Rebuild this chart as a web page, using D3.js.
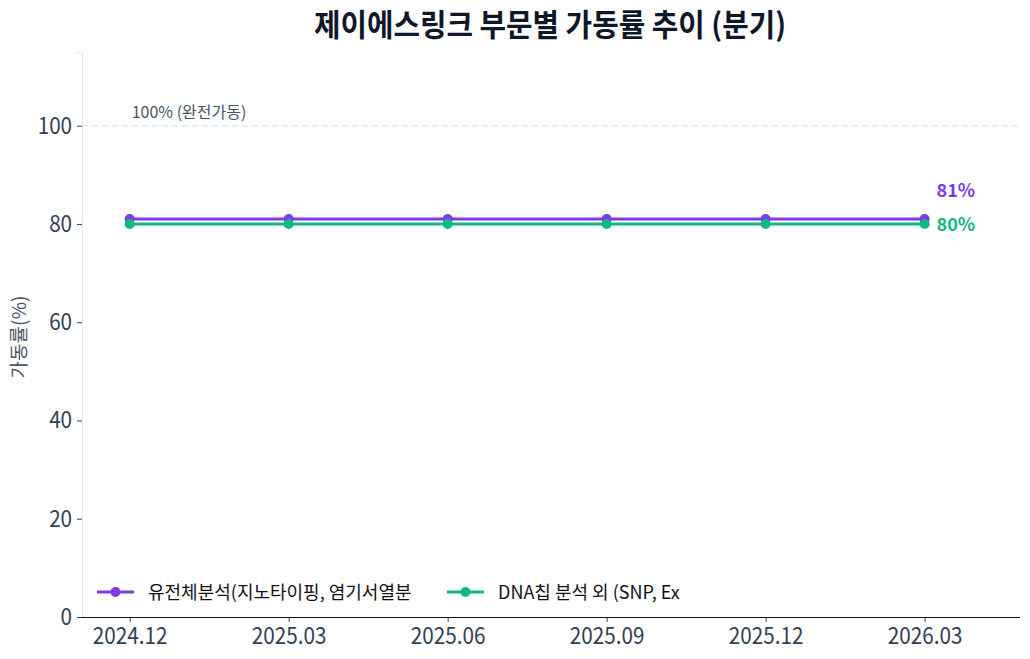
<!DOCTYPE html>
<html>
<head>
<meta charset="utf-8">
<script src="https://cdn.jsdelivr.net/npm/d3@7"></script>
<style>
  body { margin: 0; background: #fff; }
  svg { font-family: "Noto Sans CJK KR", "Noto Sans", sans-serif; }
</style>
</head>
<body>
<div id="chart"></div>
<script>
// Quarters and utilisation rates (%)
const quarters = ["2024.12", "2025.03", "2025.06", "2025.09", "2025.12", "2026.03"];
const genomeRates = [81, 81, 81, 81, 81, 81];
const dnaChipRates = [80, 80, 80, 80, 80, 80];
const seriesNames = ["유전체분석(지노타이핑, 염기서열분", "DNA칩 분석 외 (SNP, Ex"];
const yTicks = [0, 20, 40, 60, 80, 100];

const W = 1030, H = 659;
const margin = {top: 52, right: 10, bottom: 42, left: 82};
const width = W - margin.left - margin.right;
const height = H - margin.top - margin.bottom;

const svg = d3.select("#chart").append("svg")
    .attr("width", W)
    .attr("height", H);

const g = svg.append("g")
    .attr("transform", `translate(${margin.left},${margin.top})`);

const x = d3.scaleLinear()
    .domain([-0.3, quarters.length - 1 + 0.6])
    .range([0, width]);

const y = d3.scaleLinear()
    .domain([0, 115])
    .range([height, 0]);

const colors = ["#7c3aed", "#10b981"];
const series = [genomeRates, dnaChipRates];

// Title
svg.append("text")
    .attr("transform", "translate(550,36) scale(0.93,1)")
    .attr("text-anchor", "middle")
    .attr("font-size", 31)
    .attr("font-weight", "bold")
    .attr("fill", "#0f172a")
    .text("제이에스링크 부문별 가동률 추이 (분기)");

// 100% reference line
g.append("line")
    .attr("x1", 0).attr("x2", width)
    .attr("y1", y(100)).attr("y2", y(100))
    .attr("stroke", "#e2e8f0")
    .attr("stroke-width", 1.5)
    .attr("stroke-dasharray", "6,4");

g.append("text")
    .attr("x", x(0) + 2)
    .attr("y", y(100) - 8)
    .attr("font-size", 16)
    .attr("fill", "#475569")
    .text("100% (완전가동)");

// Axes
const yAxis = g.append("g")
    .call(d3.axisLeft(y).tickValues(yTicks).tickSize(5).tickPadding(6));
yAxis.select(".domain").attr("stroke", "#e5e7eb");
yAxis.selectAll(".tick line").attr("stroke", "#334155");
yAxis.selectAll(".tick text")
    .attr("font-size", 23)
    .attr("fill", "#334155")
    .attr("transform", "scale(0.9,1)")
    .attr("font-family", "'Noto Sans CJK KR', sans-serif");

const xAxis = g.append("g")
    .attr("transform", `translate(0,${height})`)
    .call(d3.axisBottom(x)
        .tickValues(d3.range(quarters.length))
        .tickFormat(i => quarters[i])
        .tickSize(5)
        .tickPadding(6));
xAxis.select(".domain").attr("stroke", "#111").attr("d", `M0,0.5H${width}`);
xAxis.selectAll(".tick line").attr("stroke", "#334155");
xAxis.selectAll(".tick text")
    .attr("font-size", 23)
    .attr("fill", "#334155")
    .attr("transform", "scale(0.9,1)")
    .attr("font-family", "'Noto Sans CJK KR', sans-serif");

// Y axis label
g.append("text")
    .attr("transform", "rotate(-90)")
    .attr("x", -285)
    .attr("y", -56)
    .attr("text-anchor", "middle")
    .attr("font-size", 19)
    .attr("fill", "#475569")
    .text("가동률(%)");

// Lines and points
const line = d3.line()
    .x((d, i) => x(i))
    .y(d => y(d));

series.forEach((values, s) => {
    g.append("path")
        .datum(values)
        .attr("d", line)
        .attr("fill", "none")
        .attr("stroke", colors[s])
        .attr("stroke-width", 3);

    g.selectAll(`.pt${s}`)
        .data(values)
        .enter()
        .append("circle")
        .attr("class", `pt${s}`)
        .attr("cx", (d, i) => x(i))
        .attr("cy", d => y(d))
        .attr("r", 5)
        .attr("fill", colors[s]);
});

// End labels
const last = quarters.length - 1;
g.append("text")
    .attr("x", x(last) + 12)
    .attr("y", y(genomeRates[last]) - 22)
    .attr("font-size", 18)
    .attr("font-weight", "bold")
    .attr("fill", colors[0])
    .text(genomeRates[last] + "%");

g.append("text")
    .attr("x", x(last) + 12)
    .attr("y", y(dnaChipRates[last]) + 7.5)
    .attr("font-size", 18)
    .attr("font-weight", "bold")
    .attr("fill", colors[1])
    .text(dnaChipRates[last] + "%");

// Legend
const legendX = [97, 447];
seriesNames.forEach((name, s) => {
    const lg = svg.append("g")
        .attr("transform", `translate(${legendX[s]},592)`);
    lg.append("line")
        .attr("x1", 0).attr("x2", 37)
        .attr("y1", 0).attr("y2", 0)
        .attr("stroke", colors[s])
        .attr("stroke-width", 3);
    lg.append("circle")
        .attr("cx", 18.5).attr("cy", 0)
        .attr("r", 5)
        .attr("fill", colors[s]);
    lg.append("text")
        .attr("x", 51)
        .attr("y", 6.5)
        .attr("font-size", 18)
        .attr("fill", "#111")
        .text(name);
});
</script>
</body>
</html>
